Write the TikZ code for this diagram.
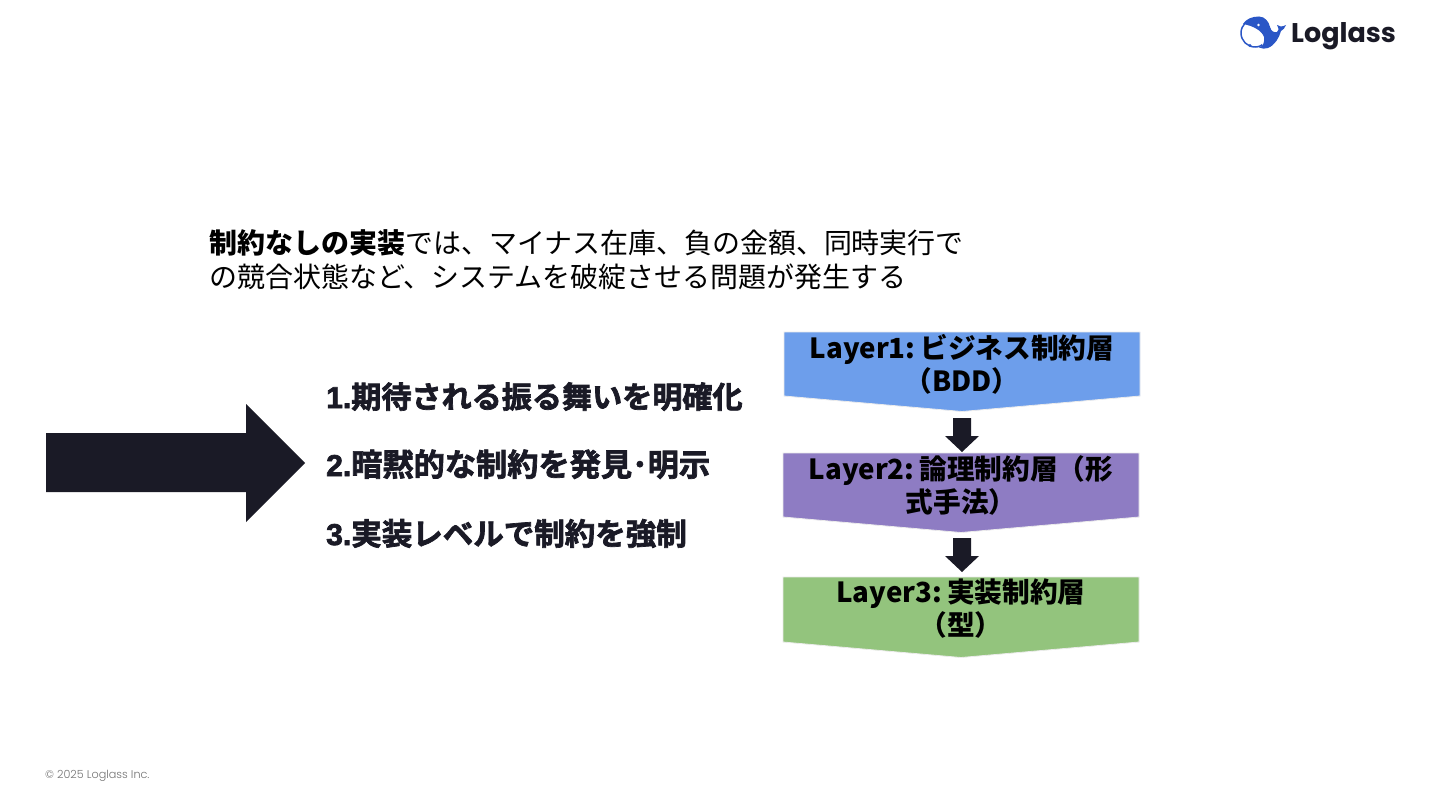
\documentclass[tikz,border=0pt]{standalone}
\usepackage{fontspec}
\setmainfont{Noto Sans CJK JP}
\newfontfamily\cjkfake{Noto Sans CJK JP Bold}
\newfontfamily\numfont{Liberation Sans Bold}
\newfontfamily\logofont{Poppins}
\newfontfamily\footfont{Poppins Light}
\definecolor{ink}{HTML}{1A1A26}
\definecolor{logoblue}{HTML}{2A56C6}
\definecolor{layerA}{HTML}{6D9EEB}
\definecolor{layerB}{HTML}{8E7CC3}
\definecolor{layerC}{HTML}{93C47D}
\tikzset{
  blockarrow/.style={fill=ink,draw=none},
  layerbox/.style={draw=white!92!black,line width=0.8pt},
  layertext/.style={inner sep=0pt,align=center,text=black,font=\fontsize{27.7}{33}\selectfont\bfseries},
  steptext/.style={inner sep=0pt,anchor=base west,text=ink},
}
\newcommand{\stepline}[3]{\special{pdf:literal direct 2 Tr 0.7 w}{\fontsize{30.1}{34}\selectfont\numfont #2}{\fontsize{#1}{34}\selectfont\cjkfake #3}\special{pdf:literal direct 0 Tr}}
\begin{document}
\begin{tikzpicture}[x=1pt,y=-1pt]
\useasboundingbox (0,0) rectangle (1440,810);
\fill[white] (0,0) rectangle (1440,810);
% logo
\begin{scope}
  \clip (1235,10) -- (1262,10) -- (1262,55) -- (1235,55) -- cycle;
  \draw[logoblue,line width=1.5pt] (1255,33) circle[radius=14];
\end{scope}
\fill[logoblue] (1243,24) .. controls (1246,19) and (1252,16.5) .. (1259,16.5)
   .. controls (1265,16.5) and (1269,22) .. (1270,27)
   .. controls (1271,31) and (1274,33) .. (1277,32)
   .. controls (1279,31) and (1279,29) .. (1277,25)
   .. controls (1279,27) and (1282,27) .. (1286,25)
   .. controls (1285,28) and (1283,30) .. (1281,31)
   .. controls (1279,38) and (1275,45) .. (1268,48)
   .. controls (1265,49) and (1262,49) .. (1259,47.5)
   .. controls (1263,46.5) and (1265,42) .. (1264,37)
   .. controls (1262,31) and (1254,26) .. (1243,24) -- cycle;
\fill[white] (1258.5,25) circle (1.4);
\fill[logoblue] (1250,45.5) circle (1.6);
\node[inner sep=0pt,anchor=base west,text=ink,font=\fontsize{27}{30}\selectfont\logofont\bfseries] (logotext) at (1291,43) {Loglass};
% heading
\node[inner sep=0pt,anchor=west,align=left,text=black,font=\fontsize{27.95}{34}\selectfont] (heading) at (209.5,260)
  {\textbf{制約なしの実装}では、マイナス在庫、負の金額、同時実行で\\の競合状態など、システムを破綻させる問題が発生する};
% big arrow
\fill[blockarrow] (46,433) -- (246,433) -- (246,404) -- (305,463) -- (246,522) -- (246,492) -- (46,492) -- cycle;
% steps
\node[steptext] (s1) at (326,408) {\stepline{30.1}{1.}{期待される振る舞いを明確化}};
\node[steptext] (s2) at (326,476) {\stepline{31.2}{2.}{暗黙的な制約を発見･明示}};
\node[steptext] (s3) at (326,545) {\stepline{30.5}{3.}{実装レベルで制約を強制}};
% layer shapes
\filldraw[layerbox,fill=layerA] (784,332) -- (1140,332) -- (1140,396) -- (962,411.5) -- (784,396) -- cycle;
\filldraw[layerbox,fill=layerB] (783,453) -- (1139,453) -- (1139,517) -- (961,532.5) -- (783,517) -- cycle;
\filldraw[layerbox,fill=layerC] (783,577) -- (1139,577) -- (1139,642) -- (961,657.5) -- (783,642) -- cycle;
\node[layertext] (l1) at (962,364) {Layer1:\hspace{5pt}ビジネス制約層\\（BDD）};
\node[layertext] (l2) at (961,485) {Layer2:\hspace{5pt}論理制約層（形\\式手法）};
\node[layertext] (l3) at (961,609) {Layer3:\hspace{5pt}実装制約層\\（型）};
% small arrows
\fill[blockarrow] (953,418) -- (971,418) -- (971,436) -- (979,436) -- (962,452) -- (945,436) -- (953,436) -- cycle;
\fill[blockarrow] (953,538) -- (971,538) -- (971,556) -- (979,556) -- (962,572) -- (945,556) -- (953,556) -- cycle;
% footer
\node[inner sep=0pt,anchor=west,text=black!55,font=\fontsize{11.2}{13}\selectfont\footfont] (foot) at (45,775.5) {© 2025 Loglass Inc.};
\end{tikzpicture}
\end{document}
